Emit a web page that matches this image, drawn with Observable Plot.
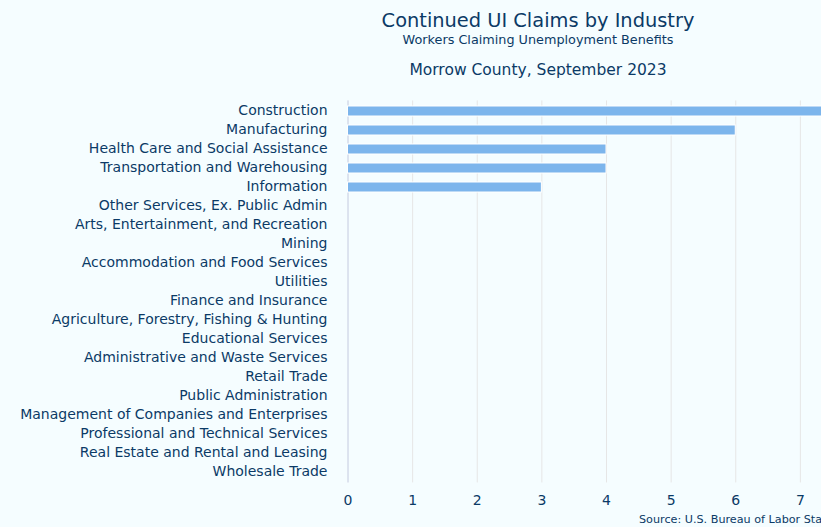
<!DOCTYPE html>
<html>
<head>
<meta charset="utf-8">
<script src="https://cdn.jsdelivr.net/npm/d3@7"></script>
<script src="https://cdn.jsdelivr.net/npm/@observablehq/plot@0.6"></script>
<style>
  html, body { margin: 0; padding: 0; overflow: hidden; background: #f5fdff; }
  body { width: 821px; height: 527px; position: relative; font-family: "DejaVu Sans", sans-serif; color: #0b3a66; }
  #wrap { position: absolute; left: 0; top: 0; width: 1076px; }
  #header { position: relative; height: 90px; width: 1076px; }
  #header div { position: absolute; left: 0; width: 1076px; text-align: center; white-space: nowrap; }
  #title { top: 9px; font-size: 19.4px; line-height: 24px; }
  #subtitle { top: 32px; font-size: 12.8px; line-height: 16px; }
  #county { top: 60px; font-size: 15.5px; line-height: 20px; }
  #chart { position: absolute; left: 0; top: 90px; }
  #source { position: absolute; left: 639px; top: 513px; font-size: 11.2px; line-height: 14px; white-space: nowrap; }
</style>
</head>
<body>
<div id="wrap">
  <div id="header">
    <div id="title">Continued UI Claims by Industry</div>
    <div id="subtitle">Workers Claiming Unemployment Benefits</div>
    <div id="county">Morrow County, September 2023</div>
  </div>
  <div id="chart"></div>
  <div id="source">Source: U.S. Bureau of Labor Statistics</div>
</div>
<script>
const industries = [
  "Construction",
  "Manufacturing",
  "Health Care and Social Assistance",
  "Transportation and Warehousing",
  "Information",
  "Other Services, Ex. Public Admin",
  "Arts, Entertainment, and Recreation",
  "Mining",
  "Accommodation and Food Services",
  "Utilities",
  "Finance and Insurance",
  "Agriculture, Forestry, Fishing & Hunting",
  "Educational Services",
  "Administrative and Waste Services",
  "Retail Trade",
  "Public Administration",
  "Management of Companies and Enterprises",
  "Professional and Technical Services",
  "Real Estate and Rental and Leasing",
  "Wholesale Trade"
];
const claims = [8, 6, 4, 4, 3, 0, 0, 0, 0, 0, 0, 0, 0, 0, 0, 0, 0, 0, 0, 0];
const xTicks = [0, 1, 2, 3, 4, 5, 6, 7];

const data = industries.map((name, i) => ({ name, value: claims[i] }));

const textColor = "#0b3a66";

const chart = Plot.plot({
  width: 875,
  height: 420,
  marginLeft: 347.5,
  marginRight: 10.5,
  marginTop: 10.45,
  marginBottom: 27.55,
  style: { background: "transparent", fontFamily: "DejaVu Sans, sans-serif", fontSize: "14px", color: textColor },
  x: { domain: [0, 8], ticks: xTicks, label: null },
  y: { domain: industries, paddingInner: 0.5, paddingOuter: 0.25, label: null },
  marks: [
    Plot.gridX(xTicks, { stroke: "#e6e6e6", strokeOpacity: 1, strokeWidth: 1 }),
    Plot.ruleX([0], { stroke: "#ccd6eb", strokeWidth: 1 }),
    Plot.barX(data.filter(d => d.value > 0), {
      x: "value", y: "name", fill: "#7cb5ec", stroke: "#ffffff", strokeWidth: 1
    }),
    Plot.axisX({ ticks: xTicks, tickSize: 0, tickPadding: 12.5, fontSize: 14, fill: textColor, label: null }),
    Plot.axisY({ tickSize: 0, tickPadding: 20.5, fontSize: 14, fill: textColor, label: null, textOverflow: null, dy: -1 })
  ]
});
document.getElementById("chart").appendChild(chart);
</script>
</body>
</html>
